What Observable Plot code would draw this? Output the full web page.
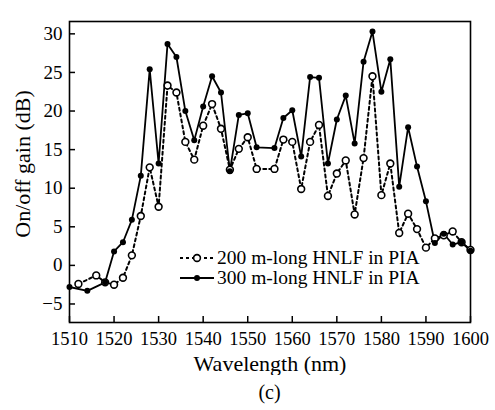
<!DOCTYPE html>
<html>
<head>
<meta charset="utf-8">
<script src="https://cdn.jsdelivr.net/npm/d3@7"></script>
<script src="https://cdn.jsdelivr.net/npm/@observablehq/plot@0.6"></script>
<style>
  html, body { margin: 0; padding: 0; background: #fff; }
  #wrap { position: relative; width: 495px; height: 410px; font-family: "Liberation Serif", "DejaVu Serif", serif; color: #000; }
  #legend { position: absolute; left: 180px; top: 248px; font-size: 19.5px; line-height: 20px; }
  .row { display: flex; align-items: center; height: 20px; white-space: nowrap; }
  .row svg { width: 34px; height: 20px; margin-right: 3px; }
  #cap { position: absolute; left: 269.5px; top: 381px; transform: translateX(-50%); font-size: 20px; }
</style>
</head>
<body>
<div id="wrap">
  <div id="chart"></div>
  <div id="legend"></div>
  <div id="cap">(c)</div>
</div>
<script>
// 200 m-long HNLF in PIA (open circles, dashed)
const wl200 = [1512, 1516, 1518, 1520, 1522, 1524, 1526, 1528, 1530, 1532, 1534, 1536, 1538, 1540, 1542, 1544, 1546, 1548, 1550, 1552, 1556, 1558, 1560, 1562, 1564, 1566, 1568, 1570, 1572, 1574, 1576, 1578, 1580, 1582, 1584, 1586, 1588, 1590, 1592, 1594, 1596, 1598, 1600];
const gain200 = [-2.4, -1.3, -2.2, -2.5, -1.6, 1.3, 6.4, 12.7, 7.6, 23.3, 22.4, 16.0, 13.7, 18.1, 20.9, 17.7, 12.4, 15.1, 16.6, 12.5, 12.5, 16.3, 16.0, 9.9, 16.0, 18.2, 9.0, 11.9, 13.6, 6.6, 13.9, 24.5, 9.1, 13.2, 4.2, 6.7, 4.7, 2.3, 3.5, 3.9, 4.4, 3.0, 2.0];
// 300 m-long HNLF in PIA (filled circles, solid)
const wl300 = [1510, 1514, 1518, 1520, 1522, 1524, 1526, 1528, 1530, 1532, 1534, 1536, 1538, 1540, 1542, 1544, 1546, 1548, 1550, 1552, 1556, 1558, 1560, 1562, 1564, 1566, 1568, 1570, 1572, 1574, 1576, 1578, 1580, 1582, 1584, 1586, 1588, 1590, 1592, 1594, 1596, 1598, 1600];
const gain300 = [-2.8, -3.3, -2.2, 1.8, 3.0, 5.9, 11.6, 25.4, 13.2, 28.7, 27.0, 20.0, 16.2, 20.6, 24.5, 22.4, 12.2, 19.5, 19.7, 15.3, 15.2, 19.1, 20.1, 14.1, 24.4, 24.3, 13.2, 18.9, 22.0, 15.8, 26.4, 30.3, 22.5, 26.7, 10.2, 17.9, 12.8, 8.3, 2.9, 4.1, 2.7, 3.0, 1.9];
const xTicks = [1510, 1520, 1530, 1540, 1550, 1560, 1570, 1580, 1590, 1600];
const yTicks = [-5, 0, 5, 10, 15, 20, 25, 30];
const seriesNames = ["200 m-long HNLF in PIA", "300 m-long HNLF in PIA"];
const xTitle = "Wavelength (nm)";
const yTitle = "On/off gain (dB)";

const d200 = wl200.map((w, i) => ({w, g: gain200[i]}));
const d300 = wl300.map((w, i) => ({w, g: gain300[i]}));

const chart = Plot.plot({
  width: 495, height: 375,
  marginLeft: 69, marginRight: 25, marginTop: 21, marginBottom: 53,
  x: {domain: [1510, 1600]},
  y: {domain: [-7.4, 31.6]},
  style: {fontFamily: '"Liberation Serif", serif', fontSize: "19px", color: "black", background: "white"},
  marks: [
    Plot.axisX(xTicks, {tickSize: -6, tickPadding: 15, label: null, tickFormat: "d", fontSize: 18.5, strokeWidth: 1.5}),
    Plot.axisY(yTicks, {tickSize: -6, tickPadding: 13, label: null, tickFormat: "d", fontSize: 19, strokeWidth: 1.5}),
    Plot.frame({stroke: "black", strokeWidth: 1.6}),
    Plot.line(d200, {x: "w", y: "g", stroke: "black", strokeWidth: 2, strokeDasharray: "3,3"}),
    Plot.line(d300, {x: "w", y: "g", stroke: "black", strokeWidth: 1.8}),
    Plot.dot(d200, {x: "w", y: "g", r: 3.4, fill: "white", stroke: "black", strokeWidth: 1.6}),
    Plot.dot(d300, {x: "w", y: "g", r: 3, fill: "black"}),
    Plot.text([xTitle], {frameAnchor: "bottom", lineAnchor: "middle", textAnchor: "middle", dy: 41, fontSize: 22}),
    Plot.text([yTitle], {frameAnchor: "left", lineAnchor: "middle", textAnchor: "middle", rotate: -90, dx: -47, dy: -8, fontSize: 22})
  ]
});
document.getElementById("chart").appendChild(chart);

// legend
const legend = d3.select("#legend");
seriesNames.forEach((name, i) => {
  const row = legend.append("div").attr("class", "row");
  const svg = row.append("svg").attr("viewBox", "0 0 34 20");
  const line = svg.append("line").attr("x1", 0).attr("x2", 34).attr("y1", 10).attr("y2", 10)
    .attr("stroke", "black").attr("stroke-width", i === 0 ? 2 : 1.8);
  if (i === 0) {
    line.attr("stroke-dasharray", "3,3");
    svg.append("circle").attr("cx", 17).attr("cy", 10).attr("r", 3.4).attr("fill", "white").attr("stroke", "black").attr("stroke-width", 1.6);
  } else {
    svg.append("circle").attr("cx", 17).attr("cy", 10).attr("r", 3).attr("fill", "black");
  }
  row.append("span").text(name);
});
</script>
</body>
</html>
